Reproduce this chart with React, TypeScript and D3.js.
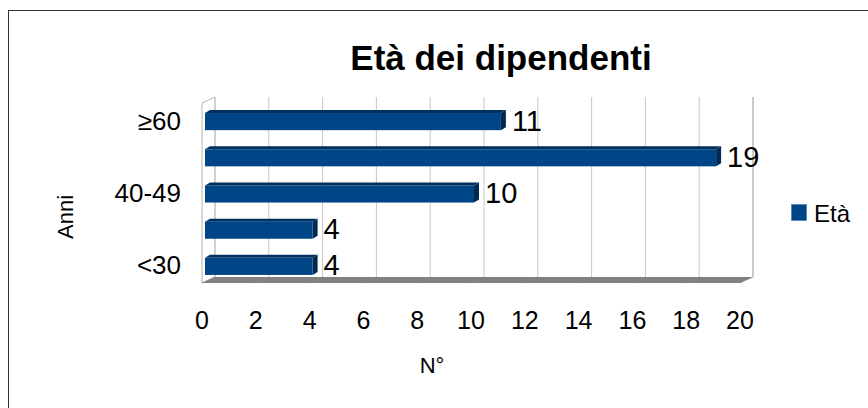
import React from 'react'
import * as d3 from 'd3'

const categories = ['≥60', '50-59', '40-49', '30-39', '<30']
const values = [11, 19, 10, 4, 4]
const shownLabels = ['≥60', '40-49', '<30']
const xTicks = [0, 2, 4, 6, 8, 10, 12, 14, 16, 18, 20]
const seriesName = 'Età'

const W = 868
const H = 408
const BLUE = '#004586'
const FONT = 'Liberation Sans, Arial, sans-serif'

// depth of the 3d walls and of the bars
const DX = 13
const DY = -6
const BDX = 5
const BDY = -3

export default function App () {
  const x = d3.scaleLinear().domain([0, 20]).range([202, 740])
  const y = d3.scaleBand<string>().domain(categories).range([103, 284]).paddingInner(0.5).paddingOuter(0.25)

  const top = 103
  const floorY = 283

  const leftWall = `M${x(0)},${top}L${x(0) + DX},${top + DY}L${x(0) + DX},${floorY + DY}L${x(0)},${floorY}Z`
  const floor = `M${x(0)},${floorY}L${x(0) + DX},${floorY + DY}L${x(20) + DX},${floorY + DY}L${x(20)},${floorY}Z`

  return (
    <svg width={W} height={H} style={{ position: 'absolute', left: 0, top: 0 }} fontFamily={FONT}>
      <rect x={0} y={0} width={W} height={H} fill='#fff' />
      <rect x={8.5} y={10.5} width={W + 10} height={H + 10} fill='none' stroke='#333' strokeWidth={1} />

      <text x={501} y={70} textAnchor='middle' fontSize={35} fontWeight='bold'>Età dei dipendenti</text>

      {/* walls */}
      <path d={leftWall} fill='#fff' stroke='#b3b3b3' />
      {xTicks.map(t => (
        <line key={t} x1={x(t) + DX} x2={x(t) + DX} y1={top + DY} y2={floorY + DY} stroke='#c8c8c8' />
      ))}
      <line x1={x(20) + DX} x2={x(20) + DX} y1={top + DY} y2={floorY + DY} stroke='#b3b3b3' />
      <path d={floor} fill='#808080' />
      {xTicks.map(t => (
        <line key={'f' + t} x1={x(t)} x2={x(t) + DX} y1={floorY} y2={floorY + DY} stroke='#8c8c8c' strokeWidth={0.6} />
      ))}

      {/* bars */}
      {categories.map((c, i) => {
        const v = values[i]
        const y0 = y(c)! + 1
        const h = y.bandwidth() - 1
        const x0 = x(0) + 3
        const x1 = x(v) + 3
        return (
          <g key={c}>
            <path d={`M${x0},${y0}L${x0 + BDX},${y0 + BDY}L${x1 + BDX},${y0 + BDY}L${x1},${y0}Z`} fill='#00305e' />
            <path d={`M${x1},${y0}L${x1 + BDX},${y0 + BDY}L${x1 + BDX},${y0 + h + BDY}L${x1},${y0 + h}Z`} fill='#002a52' />
            <rect x={x0} y={y0} width={x1 - x0} height={h} fill={BLUE} />
            <text x={x1 + BDX + 6} y={y0 + h / 2 + 9} fontSize={29}>{v}</text>
          </g>
        )
      })}

      {/* category labels */}
      {categories.filter(c => shownLabels.includes(c)).map(c => (
        <text key={c} x={181} y={y(c)! + y.bandwidth() / 2 + 8.5} textAnchor='end' fontSize={26}>{c}</text>
      ))}

      {/* x tick labels */}
      {xTicks.map(t => (
        <text key={t} x={x(t)} y={329} textAnchor='middle' fontSize={25}>{t}</text>
      ))}

      <text x={432} y={373} textAnchor='middle' fontSize={22}>N°</text>
      <text transform='translate(73,217) rotate(-90)' textAnchor='middle' fontSize={22}>Anni</text>

      {/* legend */}
      <rect x={791.5} y={204.5} width={15} height={16} fill={BLUE} stroke='#3b6fa0' strokeWidth={0.5} />
      <text x={814} y={222} fontSize={24}>{seriesName}</text>
    </svg>
  )
}
